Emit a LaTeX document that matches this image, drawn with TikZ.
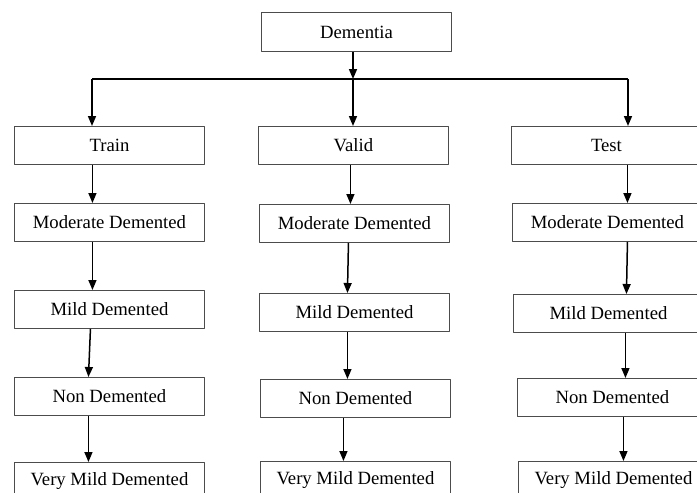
\documentclass[tikz,border=0pt]{standalone}
\usepackage{fontspec}
\setmainfont{Liberation Serif}
\usetikzlibrary{arrows.meta}
\begin{document}
\begin{tikzpicture}[x=1pt, y=-1pt, line join=round,
    boite/.style={draw=black!70, line width=0.9pt, minimum width=190pt, minimum height=38pt,
                  inner sep=0pt, anchor=north west, font=\fontsize{18.7}{22}\selectfont},
    fleche/.style={-{Triangle[length=10pt,width=8pt]}, line width=1.5pt}]

    \useasboundingbox (0,0) rectangle (697,493);
    \fill[white] (0,0) rectangle (697,493);
    \clip (0,0) rectangle (697,493);

    % Boite du haut
    \node[boite, minimum height=39pt] (dementia) at (261,12) {Dementia};

    % Colonne Train
    \node[boite] (train) at (14,126) {Train};
    \node[boite] (mod1)  at (14,203) {Moderate Demented};
    \node[boite] (mild1) at (14,290) {Mild Demented};
    \node[boite] (non1)  at (14,377) {Non Demented};
    \node[boite] (very1) at (14,462) {Very Mild Demented};

    % Colonne Valid
    \node[boite] (valid) at (258,126) {Valid};
    \node[boite] (mod2)  at (259,204) {Moderate Demented};
    \node[boite] (mild2) at (259,293) {Mild Demented};
    \node[boite] (non2)  at (260,379) {Non Demented};
    \node[boite] (very2) at (260,461) {Very Mild Demented};

    % Colonne Test
    \node[boite] (test)  at (511,126) {Test};
    \node[boite] (mod3)  at (512,203) {Moderate Demented};
    \node[boite] (mild3) at (513,294) {Mild Demented};
    \node[boite] (non3)  at (517,378) {Non Demented};
    \node[boite] (very3) at (518,461) {Very Mild Demented};

    % Ligne horizontale
    \coordinate (gauche) at (92,79);
    \coordinate (milieu) at (353,79);
    \coordinate (droite) at (628,79);
    \draw[line width=1.5pt] (gauche) -- (droite);
    \draw[fleche] (dementia.south -| milieu) -- (milieu);
    \draw[fleche] (milieu) -- (milieu |- valid.north);
    \draw[fleche] (gauche) -- (gauche |- train.north);
    \draw[fleche] (droite) -- (droite |- test.north);

    % Fleches des colonnes
    \foreach \a/\b/\sa/\sb in {train/mod1/-17/-17, mod1/mild1/-17/-17, mild1/non1/-19/-21, non1/very1/-21/-21,
                               valid/mod2/-3/-4, mod2/mild2/-6/-7, mild2/non2/-7/-8, non2/very2/-12/-12,
                               test/mod3/21/20, mod3/mild3/20/18, mild3/non3/17/13, non3/very3/11/10} {
        \draw[fleche] ([xshift=\sa pt]\a.south) -- ([xshift=\sb pt]\b.north);
    }

\end{tikzpicture}
\end{document}
